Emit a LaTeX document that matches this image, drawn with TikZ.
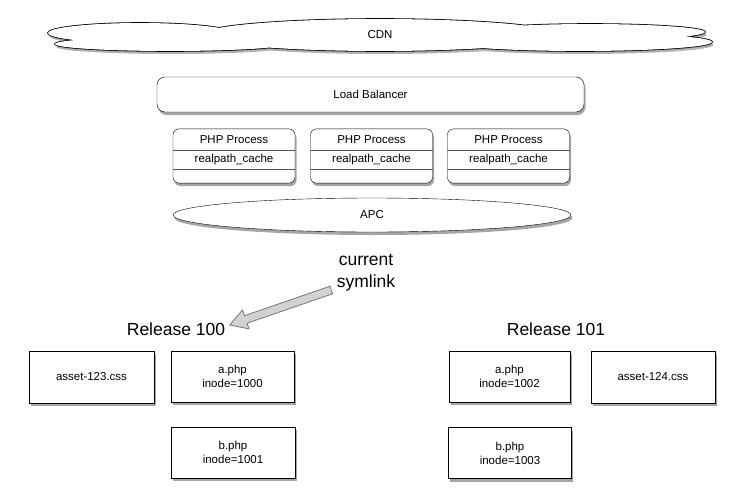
\documentclass[tikz,border=0pt]{standalone}
\usepackage{fontspec}
\setmainfont{Liberation Sans}
\usetikzlibrary{arrows.meta, positioning, shapes.geometric, shapes.multipart, shadows, calc}
\definecolor{arrowfill}{HTML}{D2D2D2}
\definecolor{arrowline}{HTML}{777777}
\newcommand{\boxfont}{\fontsize{11.5}{14}\selectfont}
\newcommand{\bigfont}{\fontsize{17.5}{22}\selectfont}

\begin{document}
\begin{tikzpicture}[x=1pt, y=-1pt,
  shade/.style={drop shadow={shadow xshift=1.5pt, shadow yshift=-3pt, opacity=0.35, fill=black}},
  filebox/.style={draw, fill=white, shade, minimum width=123pt, minimum height=51pt, align=center, font=\boxfont},
  lbbox/.style={draw, fill=white, shade, rounded corners=8pt, minimum width=427pt, minimum height=35pt, font=\boxfont},
  phpbox/.style={rectangle split, rectangle split parts=3, draw, fill=white, shade, rounded corners=6pt,
    minimum width=122pt, inner ysep=4pt, font=\boxfont, rectangle split empty part height=0.5pt},
  biglabel/.style={align=center, font=\bigfont},
  fatarrow/.style={draw=arrowline, fill=arrowfill, line width=0.8pt, line join=miter},
]
\useasboundingbox (0,0) rectangle (743,503);

% CDN cloud
\def\cdnlobes{(140,33) ellipse [x radius=92, y radius=10]
  (170,44) ellipse [x radius=115, y radius=7]
  (380,35) ellipse [x radius=180, y radius=16]
  (590,32) ellipse [x radius=115, y radius=8]
  (580,42) ellipse [x radius=132, y radius=9]}
\fill[black, opacity=0.3, xshift=1.5pt, yshift=-3pt] \cdnlobes;
\draw[line width=1.6pt] \cdnlobes;
\fill[white] \cdnlobes;
\node[font=\boxfont] (cdn) at (380,35) {CDN};

\node[lbbox] (lb) at (370.5,94.5) {Load Balancer};

% PHP processes
\node[phpbox] (php1) at (234,156) {\rule[-3pt]{0pt}{13pt}PHP Process\nodepart{second}\rule[-2pt]{0pt}{8.5pt}realpath\_cache\nodepart{third}};
\node[phpbox] (php2) at (371.5,156) {\rule[-3pt]{0pt}{13pt}PHP Process\nodepart{second}\rule[-2pt]{0pt}{8.5pt}realpath\_cache\nodepart{third}};
\node[phpbox] (php3) at (508.5,156) {\rule[-3pt]{0pt}{13pt}PHP Process\nodepart{second}\rule[-2pt]{0pt}{8.5pt}realpath\_cache\nodepart{third}};

\node[ellipse, draw, fill=white, shade, minimum width=398pt, minimum height=34pt, font=\boxfont] (apc) at (372,215) {APC};

% Symlink
\node[biglabel] (symlink) at (366,273) {current\\symlink};
\node[biglabel] (rel100) at (176,329) {Release 100};
\node[biglabel] (rel101) at (556,329) {Release 101};

\coordinate (tail) at ([xshift=-2pt, yshift=5pt]symlink.south west);
\coordinate (tip) at ([xshift=1pt, yshift=4pt]rel100.east);
\draw[fatarrow] let \p1=(tail), \p2=(tip), \n1={atan2(\y2-\y1,\x2-\x1)}, \n2={veclen(\x2-\x1,\y2-\y1)} in
  [shift={(\p1)}, rotate=\n1] (0pt,-4pt) -- (\n2-17pt,-4pt) -- (\n2-17pt,-10pt) -- (\n2,0pt)
  -- (\n2-17pt,10pt) -- (\n2-17pt,4pt) -- (0pt,4pt) -- cycle;

% Release 100
\node[filebox, minimum width=125pt, minimum height=52pt] (css123) at (91.5,377) {asset-123.css};
\node[filebox] (aphp100) at (232.5,376.5) {a.php\\inode=1000};
\node[filebox, minimum width=124pt] (bphp100) at (233,452.5) {b.php\\inode=1001};

% Release 101
\node[filebox, minimum width=121pt] (aphp101) at (509.5,376.5) {a.php\\inode=1002};
\node[filebox, minimum width=124pt, minimum height=52pt] (css124) at (653,377) {asset-124.css};
\node[filebox] (bphp101) at (510,453) {b.php\\inode=1003};

\end{tikzpicture}
\end{document}
